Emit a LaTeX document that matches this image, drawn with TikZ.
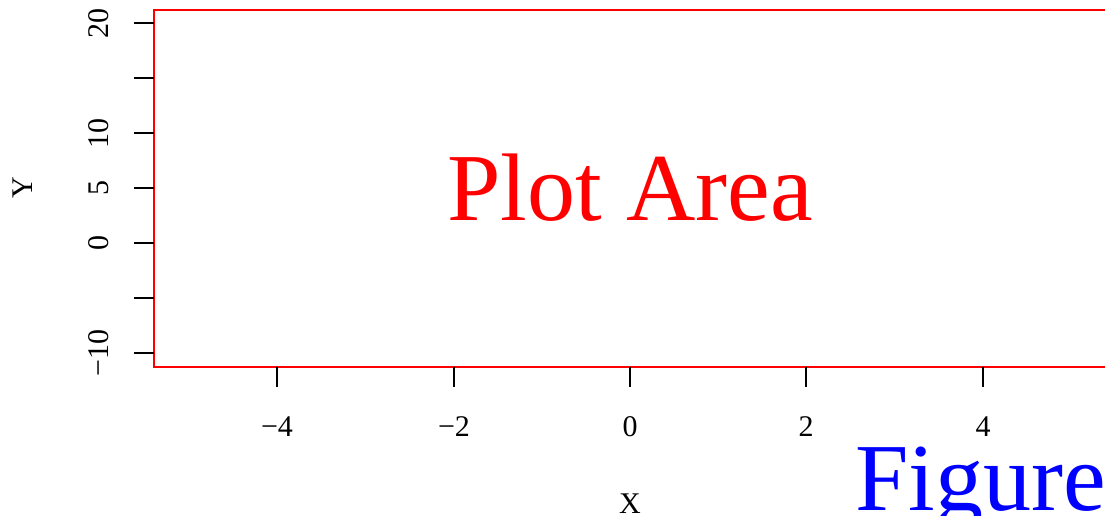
\documentclass[tikz,border=0pt]{standalone}
\usepackage{fontspec}
\setmainfont{Liberation Serif}
\tikzset{
    ticklab/.style={anchor=base, inner sep=0pt, font=\fontsize{22.5}{27}\selectfont},
    ylab/.style={ticklab, rotate=90},
    tick/.style={line width=0.9pt},
    bigtext/.style={anchor=base, inner sep=0pt, font=\fontsize{72}{82}\selectfont}
}
\begin{document}
\begin{tikzpicture}[x=0.75pt,y=-0.75pt]
    \useasboundingbox (0,0) rectangle (1105,515);
    \clip (0,0) rectangle (1105,515);

    % plot box
    \draw[red, line width=1.6pt] (154,10) rectangle (1125,367);

    % y axis
    \draw[tick] (134,23) -- (154,23);
    \draw[tick] (134,78) -- (154,78);
    \draw[tick] (134,133) -- (154,133);
    \draw[tick] (134,188) -- (154,188);
    \draw[tick] (134,243) -- (154,243);
    \draw[tick] (134,298) -- (154,298);
    \draw[tick] (134,353) -- (154,353);
    \node[ylab] (y20) at (108,23) {20};
    \node[ylab] (y10) at (108,133) {10};
    \node[ylab] (y5) at (108,188) {5};
    \node[ylab] (y0) at (108,243) {0};
    \node[ylab] (ym10) at (108,353) {−10};
    \node[ylab] (ytitle) at (32,188) {Y};

    % x axis
    \draw[tick] (277,367) -- (277,387);
    \draw[tick] (454,367) -- (454,387);
    \draw[tick] (630,367) -- (630,387);
    \draw[tick] (806,367) -- (806,387);
    \draw[tick] (983,367) -- (983,387);
    \node[ticklab] (xm4) at (277,436) {−4};
    \node[ticklab] (xm2) at (454,436) {−2};
    \node[ticklab] (x0) at (630,436) {0};
    \node[ticklab] (x2) at (806,436) {2};
    \node[ticklab] (x4) at (983,436) {4};
    \node[ticklab] (xtitle) at (630,513) {X};

    % labels
    \node[bigtext, red] (plotarea) at (630,220) {Plot Area};
    \node[bigtext, blue, anchor=base west] (figure) at (855,510) {Figure};
\end{tikzpicture}
\end{document}
